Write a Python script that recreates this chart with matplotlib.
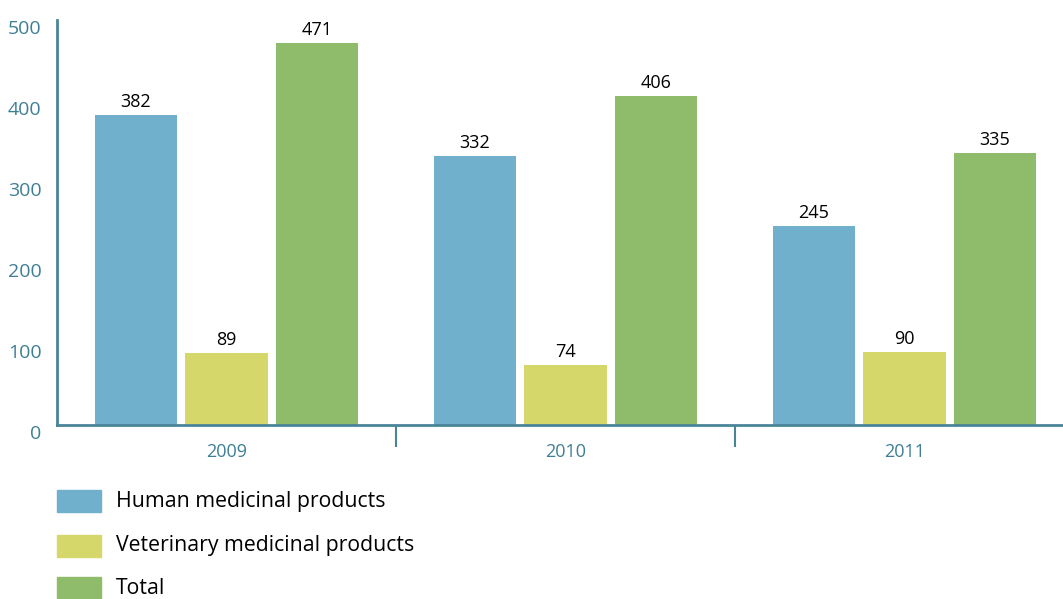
import matplotlib
matplotlib.use("Agg")
import matplotlib.pyplot as plt
from matplotlib.patches import Rectangle
import numpy as np

plt.rcParams['font.family'] = ['Open Sans', 'DejaVu Sans']

years = ["2009", "2010", "2011"]
series_names = ["Human medicinal products", "Veterinary medicinal products", "Total"]
human = [382, 332, 245]
veterinary = [89, 74, 90]
total = [471, 406, 335]
yticks = [0, 100, 200, 300, 400, 500]

colors = ["#70B0CD", "#D5D76A", "#8FBC6A"]
axis_color = "#4A8499"
label_color = "#3F7F95"

fig = plt.figure(figsize=(10.63, 5.99), dpi=100)
ax = fig.add_axes([57/1063, 1 - 425/599, 1 - 57/1063, (425 - 19.5)/599])

data = [human, veterinary, total]
offsets = [-0.267, 0.0, 0.267]
width = 0.242
centers = np.arange(len(years)) + 0.5
for vals, off, col in zip(data, offsets, colors):
    bars = ax.bar(centers + off, vals, width=width, color=col, zorder=2)
    for b, v in zip(bars, vals):
        ax.annotate(str(v), (b.get_x() + b.get_width()/2, v), xytext=(0, 3),
                    textcoords="offset points", ha="center", va="bottom",
                    fontsize=13, color="black")

ax.set_xlim(0, (1063 - 57)/339)
ax.set_ylim(0, 500)

for s in ["top", "right"]:
    ax.spines[s].set_visible(False)
for s in ["left", "bottom"]:
    ax.spines[s].set_color(axis_color)
    ax.spines[s].set_linewidth(2)

ax.set_yticks(yticks)
ax.set_yticklabels([str(t) for t in yticks])
ax.tick_params(axis="y", length=0, pad=11, labelsize=14, labelcolor=label_color)
for lab in ax.get_yticklabels():
    lab.set_verticalalignment("top")

ax.set_xticks(centers)
ax.set_xticklabels(years)
ax.tick_params(axis="x", which="major", length=0, pad=13, labelsize=13, labelcolor=label_color)
ax.set_xticks([1, 2], minor=True)
ax.tick_params(axis="x", which="minor", length=16, width=1.5, color=axis_color, direction="out")

# legend
for i, (name, col) in enumerate(zip(series_names, colors)):
    yc = [501, 546, 588][i]
    fig.patches.append(Rectangle((57/1063, 1 - (yc + 11)/599), 44/1063, 22/599,
                                 transform=fig.transFigure, color=col))
    fig.text(116/1063, 1 - yc/599, name, ha="left", va="center", fontsize=15.3, color="black")

fig.savefig("out.png", dpi=100)
